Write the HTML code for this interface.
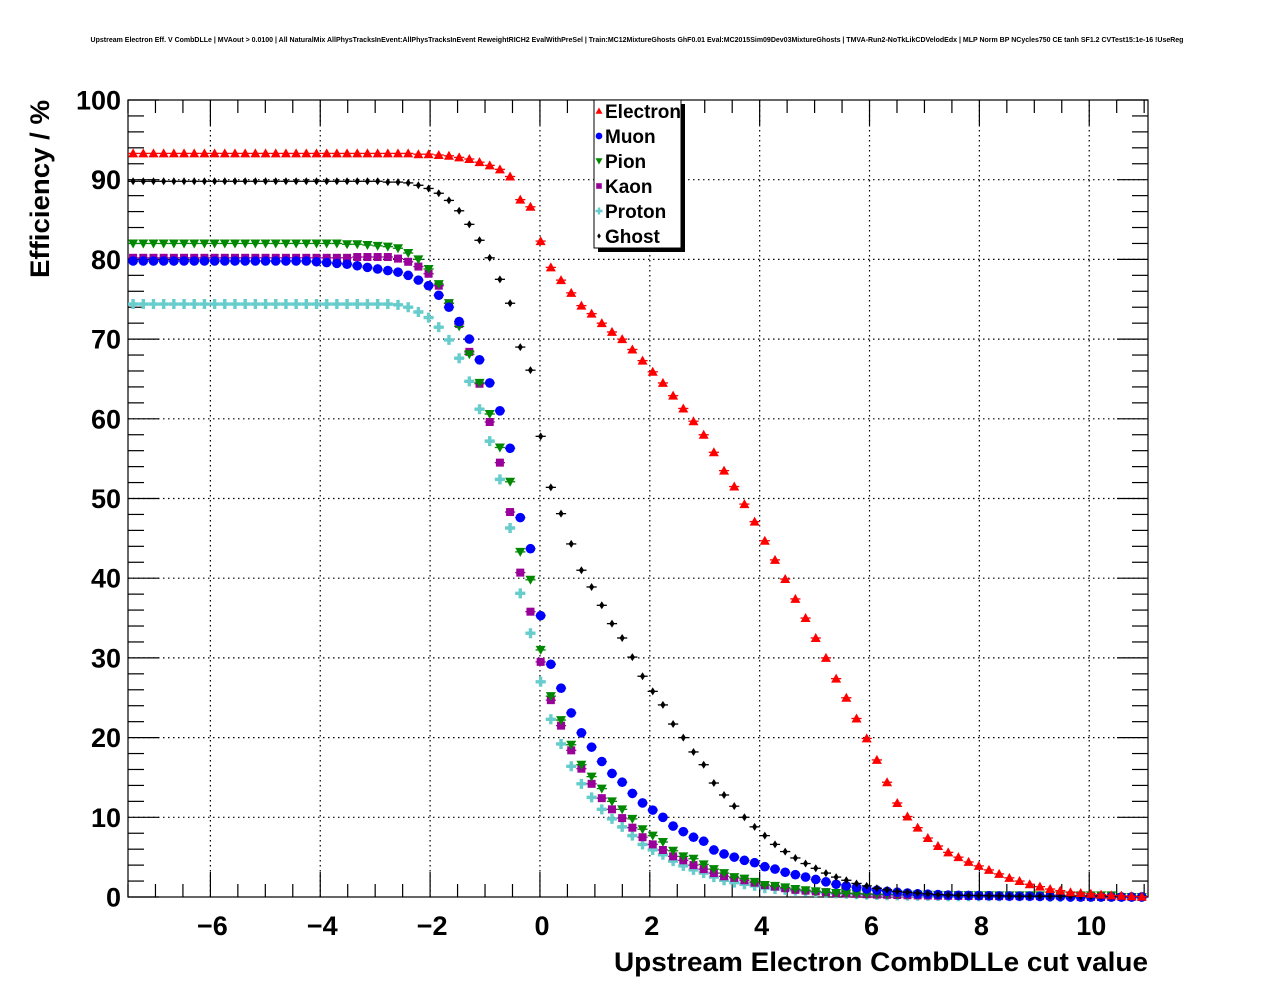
<!DOCTYPE html>
<html><head><meta charset="utf-8"><style>
html,body{margin:0;padding:0;background:#fff;}
svg{display:block;font-family:"Liberation Sans",Arial,sans-serif;}
</style></head><body>
<svg id="chart" width="1276" height="996" viewBox="0 0 1276 996">
<rect x="0" y="0" width="1276" height="996" fill="#fff"/>
<text x="637" y="42" font-size="7" font-weight="bold" text-anchor="middle">Upstream Electron Eff. V CombDLLe | MVAout &gt; 0.0100 | All NaturalMix AllPhysTracksInEvent:AllPhysTracksInEvent ReweightRICH2 EvalWithPreSel | Train:MC12MixtureGhosts GhF0.01 Eval:MC2015Sim09Dev03MixtureGhosts | TMVA-Run2-NoTkLikCDVelodEdx | MLP Norm BP NCycles750 CE tanh SF1.2 CVTest15:1e-16 !UseReg</text>
<g id="grid"></g>
<g id="axes"></g>
<g id="series"></g>
<text x="614" y="971" font-size="26.5" font-weight="bold" textLength="534" lengthAdjust="spacingAndGlyphs">Upstream Electron CombDLLe cut value</text>
<text transform="translate(49,278) rotate(-90)" font-size="26.5" font-weight="bold" textLength="178" lengthAdjust="spacingAndGlyphs">Efficiency / %</text>
<g id="legend"></g>
</svg>
<script>
const xTicks = [-6, -4, -2, 0, 2, 4, 6, 8, 10];
const xTickLabels = ["\u22126", "\u22124", "\u22122", "0", "2", "4", "6", "8", "10"];
const yTicks = [0, 10, 20, 30, 40, 50, 60, 70, 80, 90, 100];
const yTickLabels = ["0", "10", "20", "30", "40", "50", "60", "70", "80", "90", "100"];
const binLow = -7.5;
const binWidth = 0.1855;
const seriesNames = ["Electron", "Muon", "Pion", "Kaon", "Proton", "Ghost"];

const electron = [93.3,93.3,93.3,93.3,93.3,93.3,93.3,93.3,93.3,93.3,93.3,93.3,93.3,93.3,93.3,93.3,93.3,93.3,93.3,93.3,93.3,93.3,93.3,93.3,93.3,
93.3,93.3,93.3,93.2,93.2,93.1,93.0,92.8,92.6,92.2,91.8,91.3,90.4,87.5,86.6,
82.3,79.0,77.4,75.8,74.2,73.2,72.0,70.9,70.0,68.7,67.3,65.9,64.5,62.9,61.3,59.7,58.0,55.8,53.5,51.5,
49.3,47.1,44.7,42.3,39.9,37.4,35.0,32.5,30.0,27.4,25.0,22.4,19.9,17.2,14.4,11.8,10.1,8.7,7.4,6.4,
5.6,5.0,4.4,3.9,3.4,2.9,2.4,2.0,1.6,1.3,1.0,0.8,0.6,0.5,0.4,0.3,0.2,0.15,0.1,0.05];
const muon = [79.8,79.8,79.8,79.8,79.8,79.8,79.8,79.8,79.8,79.8,79.8,79.8,79.8,79.8,79.8,79.8,79.8,79.8,79.7,79.6,79.5,79.4,79.2,79.0,78.8,
78.6,78.4,78.0,77.4,76.7,75.5,74.0,72.2,70.0,67.4,64.5,61.0,56.3,47.6,43.7,
35.3,29.2,26.2,23.1,20.6,18.8,17.0,15.5,14.4,13.0,11.8,10.9,10.0,8.9,8.2,7.5,7.0,5.9,5.4,5.0,
4.6,4.3,3.8,3.5,3.1,2.8,2.5,2.2,1.9,1.6,1.4,1.2,1.0,0.85,0.7,0.6,0.5,0.4,0.35,0.3,
0.25,0.22,0.2,0.18,0.16,0.14,0.12,0.1,0.1,0.08,0.07,0.06,0,0,0,0,0,0,0,0];
const pion = [82.0,82.0,82.0,82.0,82.0,82.0,82.0,82.0,82.0,82.0,82.0,82.0,82.0,82.0,82.0,82.0,82.0,82.0,82.0,82.0,82.0,81.9,81.9,81.8,81.7,
81.6,81.4,80.8,80.0,78.8,76.9,74.5,71.6,68.1,64.5,60.6,56.4,52.1,43.3,39.8,
31.0,25.2,22.2,19.1,16.6,15.1,13.6,12.0,11.0,9.8,8.5,7.7,6.9,5.8,5.1,4.8,4.1,3.5,3.0,2.5,
2.3,1.9,1.5,1.4,1.2,1.0,0.85,0.7,0.6,0.5,0.45,0.4,0.38,0.36,0.34,0.32,0.3,0.3,0.28,0.26,
0.25,0.24,0.23,0.22,0.22,0.21,0.2,0.2,0.2,0.2,0.2,0.2,0.2,0.2,0.2,0.2,0.2,0,0,0];
const kaon = [80.2,80.2,80.2,80.2,80.2,80.2,80.2,80.2,80.2,80.2,80.2,80.2,80.2,80.2,80.2,80.2,80.2,80.2,80.2,80.2,80.2,80.2,80.3,80.3,80.3,
80.3,80.1,79.7,79.1,78.2,76.7,74.5,71.9,68.4,64.4,59.6,54.5,48.3,40.7,35.8,
29.5,24.7,21.5,18.4,16.1,14.2,12.4,11.0,9.9,8.7,7.5,6.6,5.9,5.1,4.6,4.0,3.5,3.0,2.6,2.4,
2.1,1.8,1.5,1.3,1.1,0.9,0.8,0.7,0.6,0.5,0.45,0.4,0.35,0.3,0.28,0.25,0.22,0.2,0.18,0.16,
0.15,0.14,0.13,0.12,0.11,0.1,0.1,0.1,0.1,0.1,0.1,0.1,0.1,0,0,0,0,0,0,0];
const proton = [74.4,74.4,74.4,74.4,74.4,74.4,74.4,74.4,74.4,74.4,74.4,74.4,74.4,74.4,74.4,74.4,74.4,74.4,74.4,74.4,74.4,74.4,74.4,74.4,74.4,
74.4,74.3,74.0,73.4,72.7,71.5,69.9,67.6,64.7,61.2,57.2,52.4,46.3,38.1,33.1,
27.0,22.3,19.2,16.4,14.2,12.5,11.0,9.8,8.8,7.7,6.6,5.9,5.3,4.5,3.9,3.4,3.0,2.5,2.1,1.8,
1.6,1.4,1.1,1.0,0.9,0.8,0.7,0.6,0.5,0.45,0.4,0.35,0.3,0.26,0.22,0.2,0.18,0.16,0.14,0.12,
0.1,0.1,0.1,0.1,0.1,0.1,0.1,0.1,0.1,0.1,0,0,0,0,0,0,0,0,0,0];
const ghost = [89.8,89.8,89.8,89.8,89.8,89.8,89.8,89.8,89.8,89.8,89.8,89.8,89.8,89.8,89.8,89.8,89.8,89.8,89.8,89.8,89.8,89.8,89.8,89.8,89.8,
89.7,89.7,89.6,89.3,88.9,88.3,87.4,86.1,84.4,82.4,80.2,77.5,74.5,69.0,66.1,
57.8,51.4,48.1,44.3,41.0,38.9,36.6,34.3,32.5,30.1,27.7,25.8,24.1,21.7,20.0,18.2,16.6,14.3,12.8,11.4,
10.0,8.8,7.7,6.6,5.7,4.9,4.2,3.6,3.0,2.5,2.1,1.7,1.4,1.1,0.9,0.7,0.6,0.5,0.4,0.3,
0.25,0.22,0.2,0.18,0.16,0.14,0.12,0.1,0.1,0.1,0.1,0.1,0.1,0.1,0.1,0.1,0.1,0.1,0.1,0.1];

const X0 = 128, X1 = 1148, Y0 = 897, Y1 = 100;
const XMIN = -7.5, XMAX = 11.07, YMIN = 0, YMAX = 100;
const NS = "http://www.w3.org/2000/svg";
function sx(v){ return X0 + (v - XMIN) / (XMAX - XMIN) * (X1 - X0); }
function sy(v){ return Y0 - (v - YMIN) / (YMAX - YMIN) * (Y0 - Y1); }
function mk(tag, attrs, parent){ const e = document.createElementNS(NS, tag); for (const k in attrs) e.setAttribute(k, attrs[k]); parent.appendChild(e); return e; }

const grid = document.getElementById('grid');
const axes = document.getElementById('axes');
xTicks.forEach(function(t){
  const l = mk('line', {x1: sx(t), x2: sx(t), y1: Y1, y2: Y0, stroke: '#000', 'stroke-width': 1.2, 'stroke-dasharray': '1.5 3.5'}, grid);
  
  
});
yTicks.forEach(function(t){
  if (t === 0 || t === 100) return;
  const l = mk('line', {x1: X0, x2: X1, y1: sy(t), y2: sy(t), stroke: '#000', 'stroke-width': 1.2, 'stroke-dasharray': '1.5 3.5'}, grid);
  
  
});
const frame = mk('rect', {x: X0, y: Y1, width: X1 - X0, height: Y0 - Y1, fill: 'none', stroke: '#000', 'stroke-width': 1.2}, axes);


for (let k = -15; k <= 22; k++) {
  const v = k * 0.5;
  if (v < XMIN || v > XMAX) continue;
  const major = (k % 4 === 0);
  const len = major ? 25 : 13;
  mk('line', {x1: sx(v), x2: sx(v), y1: Y0, y2: Y0 - len, stroke: '#000', 'stroke-width': 1.2}, axes);
  mk('line', {x1: sx(v), x2: sx(v), y1: Y1, y2: Y1 + len, stroke: '#000', 'stroke-width': 1.2}, axes);
}
for (let v = 0; v <= 100; v += 2) {
  const major = (v % 10 === 0);
  const len = major ? 31 : 16;
  mk('line', {x1: X0, x2: X0 + len, y1: sy(v), y2: sy(v), stroke: '#000', 'stroke-width': 1.2}, axes);
  mk('line', {x1: X1, x2: X1 - len, y1: sy(v), y2: sy(v), stroke: '#000', 'stroke-width': 1.2}, axes);
}
xTicks.forEach(function(t, i){
  const tx = mk('text', {x: sx(t) + 2, y: 935, 'font-size': 27, 'font-weight': 'bold', 'text-anchor': 'middle'}, axes);
  tx.textContent = xTickLabels[i];
  
  
});
yTicks.forEach(function(t, i){
  const tx = mk('text', {x: 121, y: sy(t) + 9.5, 'font-size': 27, 'font-weight': 'bold', 'text-anchor': 'end'}, axes);
  tx.textContent = yTickLabels[i];
  
  
});

const colors = ['#ff0000', '#0000ff', '#008800', '#990099', '#66cccc', '#000000'];
function marker(kind, cx, cy, col, parent, s){
  s = s || 1;
  let e;
  if (kind === 0) e = mk('polygon', {points: [cx, cy - 5*s, cx - 5*s, cy + 4*s, cx + 5*s, cy + 4*s].join(' '), fill: col}, parent);
  else if (kind === 1) e = mk('circle', {cx: cx, cy: cy, r: 4.8*s, fill: col}, parent);
  else if (kind === 2) e = mk('polygon', {points: [cx - 5*s, cy - 4*s, cx + 5*s, cy - 4*s, cx, cy + 5*s].join(' '), fill: col}, parent);
  else if (kind === 3) e = mk('rect', {x: cx - 4*s, y: cy - 4*s, width: 8*s, height: 8*s, fill: col}, parent);
  else if (kind === 4) e = mk('path', {d: 'M' + (cx - 5*s) + ' ' + (cy - 1.7*s) + 'h' + 3.3*s + 'v' + (-3.3*s) + 'h' + 3.4*s + 'v' + 3.3*s + 'h' + 3.3*s + 'v' + 3.4*s + 'h' + (-3.3*s) + 'v' + 3.3*s + 'h' + (-3.4*s) + 'v' + (-3.3*s) + 'h' + (-3.3*s) + 'z', fill: col}, parent);
  else e = mk('polygon', {points: [cx, cy - 4*s, cx + 2.6*s, cy, cx, cy + 4*s, cx - 2.6*s, cy].join(' '), fill: col}, parent);
  return e;
}
const allSeries = [electron, muon, pion, kaon, proton, ghost];
const seriesG = document.getElementById('series');
[4, 3, 2, 1, 5, 0].forEach(function(si){
  const g = mk('g', {}, seriesG);
  
  
  allSeries[si].forEach(function(v, i){
    const xc = binLow + binWidth * (i + 0.5);
    const px = sx(xc), py = sy(v);
    mk('line', {x1: sx(xc - binWidth/2), x2: sx(xc + binWidth/2), y1: py, y2: py, stroke: colors[si], 'stroke-width': 1.3}, g);
    const m = marker(si, px, py, colors[si], g);
    
    
  });
});

const leg = document.getElementById('legend');
mk('rect', {x: 598, y: 104, width: 87, height: 148, fill: '#000'}, leg);
const lb = mk('rect', {x: 594, y: 100, width: 87, height: 148, fill: '#fff', stroke: '#000', 'stroke-width': 1}, leg);


seriesNames.forEach(function(n, i){
  const y = 111 + 25 * i;
  const m = marker(i, 599, y, colors[i], leg, 0.7);
  
  
  const t = mk('text', {x: 605, y: y + 7, 'font-size': 19, 'font-weight': 'bold'}, leg);
  t.textContent = n;
  
  
});
</script>
</body></html>
